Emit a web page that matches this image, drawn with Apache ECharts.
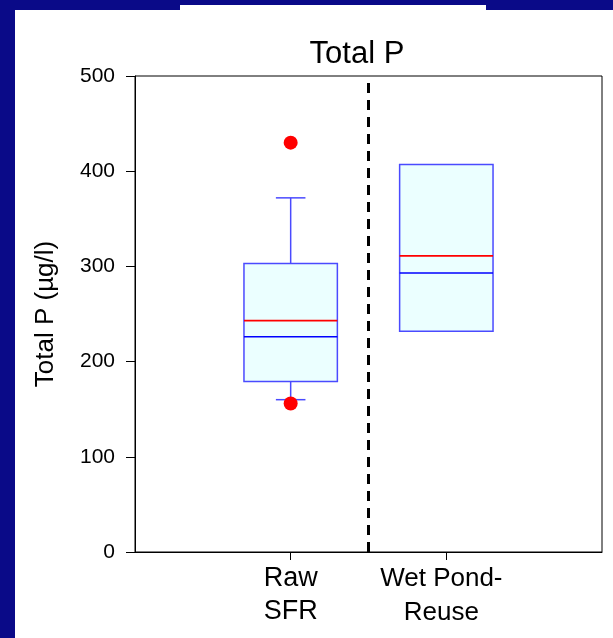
<!DOCTYPE html>
<html>
<head>
<meta charset="utf-8">
<style>
  html, body { margin: 0; padding: 0; background: #0a0a88; }
  #chart { width: 613px; height: 638px; }
</style>
<script src="https://cdn.jsdelivr.net/npm/echarts@6/dist/echarts.min.js"></script>
</head>
<body>
<div id="chart"></div>
<script>
// Sites along the x axis and their positions
const categories = ['Raw\nSFR', 'Wet Pond-\nReuse'];
const positions = [1, 2];

// Box statistics per site (µg/l); null = no whisker drawn
const whiskerLow  = [160, null];
const quartile1   = [179, 232];
const medianVals  = [226, 293];
const meanVals    = [243, 311];
const quartile3   = [303, 407];
const whiskerHigh = [372, null];

// Outlying observations [position, value]
const outliers = [[1, 430], [1, 156]];

// Divider between the two sites
const dividerX = 1.5;

// Y axis ticks
const yTicks = { min: 0, max: 500, step: 100 };

const FONT = '"Liberation Sans", Arial, sans-serif';

const boxData = positions.map((p, i) => [
  p, whiskerLow[i], quartile1[i], medianVals[i], meanVals[i], quartile3[i], whiskerHigh[i]
]);

const BOX_HALF = 0.3;
const CAP_HALF = 0.095;
const BOX_BLUE = '#4a4aff';

function renderBox(params, api) {
  const x = api.value(0);
  const low = api.value(1), q1 = api.value(2), med = api.value(3),
        mean = api.value(4), q3 = api.value(5), high = api.value(6);
  const left = api.coord([x - BOX_HALF, q3]);
  const right = api.coord([x + BOX_HALF, q1]);
  const children = [];
  const hline = (v, half, color, w) => {
    const a = api.coord([x - half, v]), b = api.coord([x + half, v]);
    return { type: 'line', shape: { x1: a[0], y1: a[1], x2: b[0], y2: b[1] },
             style: { stroke: color, lineWidth: w } };
  };
  const vline = (v1, v2) => {
    const a = api.coord([x, v1]), b = api.coord([x, v2]);
    return { type: 'line', shape: { x1: a[0], y1: a[1], x2: b[0], y2: b[1] },
             style: { stroke: BOX_BLUE, lineWidth: 1.5 } };
  };
  if (!isNaN(high) && high !== null) {
    children.push(vline(q3, high));
    children.push(hline(high, CAP_HALF, BOX_BLUE, 1.5));
  }
  if (!isNaN(low) && low !== null) {
    children.push(vline(low, q1));
    children.push(hline(low, CAP_HALF, BOX_BLUE, 1.5));
  }
  children.push({
    type: 'rect',
    shape: { x: left[0], y: left[1], width: right[0] - left[0], height: right[1] - left[1] },
    style: { fill: '#ebffff', stroke: BOX_BLUE, lineWidth: 1.5 }
  });
  children.push(hline(mean, BOX_HALF, '#ff0000', 1.8));
  children.push(hline(med, BOX_HALF, '#0000ff', 1.5));
  return { type: 'group', children };
}

const chart = echarts.init(document.getElementById('chart'), null, { renderer: 'canvas' });

chart.setOption({
  backgroundColor: '#0a0a88',
  animation: false,
  graphic: [
    { type: 'rect', z: -10, shape: { x: 15, y: 10, width: 598, height: 628 }, style: { fill: '#ffffff' } },
    { type: 'rect', z: -10, shape: { x: 180, y: 5, width: 306, height: 6 }, style: { fill: '#ffffff' } }
  ],
  title: {
    text: 'Total P',
    left: 352,
    top: 34,
    textAlign: 'center',
    textStyle: { fontFamily: FONT, fontSize: 31, fontWeight: 'normal', color: '#000' }
  },
  grid: {
    left: 135, right: 11, top: 76, bottom: 86,
    show: true, borderColor: '#000', borderWidth: 1, backgroundColor: 'transparent'
  },
  xAxis: {
    type: 'value',
    min: 0, max: 3, interval: 1,
    splitLine: { show: false },
    axisLine: { lineStyle: { color: '#000', width: 1 } },
    axisTick: { show: true, customValues: positions, length: 8, lineStyle: { color: '#000' } },
    axisLabel: {
      customValues: positions,
      margin: 10,
      formatter: (v) => {
        const i = positions.indexOf(v);
        if (i < 0) return '';
        const tag = i === 0 ? 'a' : 'b';
        return categories[i].split('\n').map(s => '{' + tag + '|' + s + '}').join('\n');
      },
      rich: {
        a: { fontFamily: FONT, fontSize: 27, color: '#000', lineHeight: 33 },
        b: { fontFamily: FONT, fontSize: 26, color: '#000', lineHeight: 34, padding: [0, 10, 0, 0] }
      }
    }
  },
  yAxis: {
    type: 'value',
    min: yTicks.min, max: yTicks.max, interval: yTicks.step,
    name: 'Total P (µg/l)',
    nameLocation: 'middle',
    nameGap: 76,
    nameTextStyle: { fontFamily: FONT, fontSize: 26, color: '#000' },
    splitLine: { show: false },
    axisLine: { show: true, lineStyle: { color: '#000', width: 1 } },
    axisTick: { show: true, length: 9, lineStyle: { color: '#000' } },
    axisLabel: { fontFamily: FONT, fontSize: 21, color: '#000', margin: 20 }
  },
  series: [
    {
      type: 'custom',
      renderItem: renderBox,
      data: boxData,
      encode: { x: 0, y: [1, 2, 3, 4, 5, 6] },
      z: 3
    },
    {
      type: 'scatter',
      data: outliers,
      symbol: 'circle',
      symbolSize: 14,
      itemStyle: { color: '#ff0000', opacity: 1 },
      z: 5
    },
    {
      type: 'line',
      data: [[dividerX, yTicks.min], [dividerX, yTicks.max]],
      symbol: 'none',
      lineStyle: { color: '#000', width: 3, type: [10, 7] },
      z: 2
    }
  ]
});
</script>
</body>
</html>
